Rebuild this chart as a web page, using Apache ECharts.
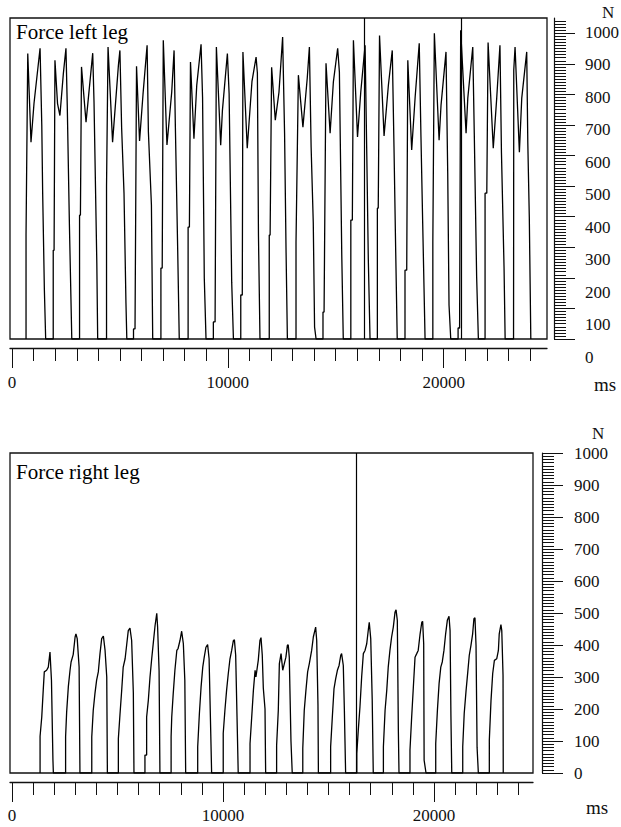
<!DOCTYPE html>
<html><head><meta charset="utf-8">
<script src="https://cdn.jsdelivr.net/npm/echarts@6/dist/echarts.min.js"></script>
<style>html,body{margin:0;padding:0;background:#fff}#c{width:621px;height:827px}</style>
</head><body><div id="c"></div>
<script>
// ---- data: left leg force (ms, N), one sub-array per step ----
const leftLegCycles = [
 [[650,0],[650,340],[680,340],[730,934],[880,644],[1020,771],[1300,951],[1380,699],[1420,480],[1500,160],[1560,0]],
 [[1910,0],[1910,290],[1950,290],[1990,912],[2110,770],[2220,731],[2380,869],[2500,951],[2560,765],[2660,373],[2770,0]],
 [[3130,0],[3130,405],[3170,405],[3220,890],[3430,709],[3520,775],[3740,935],[3800,775],[3930,248],[3970,0]],
 [[4380,0],[4380,500],[4400,500],[4450,955],[4660,644],[4930,895],[5000,944],[5080,690],[5190,477],[5280,118],[5320,0]],
 [[5630,0],[5630,33],[5700,33],[5770,892],[5910,648],[6070,800],[6260,961],[6320,677],[6460,438],[6520,0]],
 [[6900,0],[6900,232],[6960,232],[7010,977],[7180,635],[7400,807],[7510,944],[7570,693],[7680,281],[7750,0]],
 [[8160,0],[8160,366],[8220,366],[8270,906],[8430,655],[8560,830],[8760,964],[8830,790],[8910,199],[8990,0]],
 [[9330,0],[9330,56],[9410,56],[9470,955],[9670,634],[9750,748],[9980,934],[10060,803],[10180,186],[10260,0]],
 [[10600,0],[10600,144],[10670,144],[10700,939],[10900,624],[11120,843],[11310,922],[11370,870],[11420,340],[11490,0]],
 [[11920,0],[11920,340],[11960,340],[12030,889],[12200,716],[12370,807],[12540,988],[12630,673],[12700,281],[12760,0]],
 [[13160,0],[13160,317],[13190,317],[13270,863],[13480,693],[13680,853],[13780,955],[13860,628],[13960,379],[14020,39],[14090,0]],
 [[14410,0],[14410,88],[14460,88],[14550,902],[14740,673],[14890,840],[15090,951],[15170,873],[15280,275],[15350,0]],
 [[15700,0],[15700,389],[15770,389],[15820,977],[16010,661],[16160,807],[16360,961],[16440,601],[16510,261],[16590,0]],
 [[16930,0],[16930,428],[16970,428],[17030,993],[17240,664],[17440,830],[17620,944],[17700,628],[17780,284],[17850,0]],
 [[18210,0],[18210,225],[18290,225],[18340,912],[18520,618],[18680,791],[18870,967],[18950,661],[19030,379],[19140,0]],
 [[19500,0],[19500,317],[19520,317],[19570,1000],[19790,650],[19880,765],[20110,939],[20190,542],[20250,111],[20330,0]],
 [[20670,0],[20670,36],[20740,36],[20790,1010],[21040,673],[21120,788],[21350,955],[21420,673],[21530,203],[21610,0]],
 [[21920,0],[21920,477],[22000,477],[22060,970],[22300,624],[22460,788],[22610,961],[22680,608],[22800,232],[22850,0]],
 [[23240,0],[23250,880],[23310,955],[23510,611],[23620,788],[23850,939],[23900,644],[23970,399],[24040,0]]
];
// ---- data: right leg force (ms, N) ----
const rightLegCycles = [
 [[1330,0],[1330,115],[1410,175],[1480,259],[1530,316],[1640,321],[1720,331],[1800,378],[1870,290],[1940,40],[1960,0]],
 [[2540,0],[2540,113],[2590,191],[2670,270],[2750,321],[2800,347],[2900,370],[2990,425],[3030,435],[3090,420],[3180,331],[3220,0]],
 [[3780,0],[3780,113],[3850,196],[3930,248],[4010,290],[4090,316],[4170,373],[4250,420],[4330,428],[4410,383],[4490,300],[4520,0]],
 [[5040,0],[5040,108],[5120,186],[5200,260],[5270,331],[5360,357],[5440,404],[5510,445],[5590,453],[5670,414],[5750,250],[5780,0]],
 [[6300,0],[6300,56],[6380,56],[6380,175],[6460,227],[6540,300],[6620,357],[6700,409],[6780,461],[6860,499],[6900,456],[6970,320],[7010,0]],
 [[7540,0],[7540,113],[7570,175],[7640,248],[7720,321],[7810,383],[7870,389],[7960,414],[8040,443],[8120,404],[8190,290],[8230,0]],
 [[8800,0],[8800,82],[8880,186],[8960,269],[9040,331],[9110,362],[9190,393],[9270,401],[9340,357],[9420,120],[9460,0]],
 [[10010,0],[10010,124],[10090,196],[10170,259],[10250,311],[10330,357],[10410,383],[10490,414],[10540,416],[10600,368],[10680,125],[10720,0]],
 [[11280,0],[11280,92],[11360,175],[11440,259],[11520,321],[11560,300],[11670,352],[11750,414],[11800,423],[11860,368],[11910,265],[11990,200],[12020,0]],
 [[12540,0],[12540,87],[12620,196],[12670,342],[12750,373],[12830,321],[12900,340],[12980,362],[13050,399],[13090,401],[13140,362],[13220,100],[13280,0]],
 [[13780,0],[13780,77],[13850,196],[13930,259],[14010,316],[14090,342],[14200,383],[14280,425],[14390,456],[14440,414],[14500,212],[14520,0]],
 [[15100,0],[15100,82],[15180,175],[15260,264],[15340,295],[15420,321],[15500,336],[15580,368],[15620,373],[15700,336],[15750,200],[15810,0]],
 [[16340,0],[16340,61],[16410,134],[16490,207],[16570,300],[16650,373],[16730,383],[16810,404],[16890,450],[16930,471],[17000,420],[17070,230],[17120,0]],
 [[17600,0],[17600,82],[17680,196],[17760,259],[17830,331],[17910,383],[17990,425],[18070,456],[18150,502],[18200,510],[18260,477],[18310,129],[18340,0]],
 [[18860,0],[18860,72],[18940,175],[19020,269],[19100,362],[19180,373],[19250,383],[19340,435],[19420,471],[19460,474],[19510,404],[19530,40],[19620,0]],
 [[20080,0],[20080,92],[20160,196],[20240,280],[20320,331],[20390,347],[20470,383],[20550,435],[20630,477],[20710,490],[20760,445],[20800,181],[20840,0]],
 [[21360,0],[21360,82],[21430,186],[21520,259],[21600,316],[21670,368],[21750,399],[21830,435],[21890,482],[21940,485],[21990,399],[22040,80],[22100,0]],
 [[22620,0],[22620,103],[22700,227],[22780,311],[22860,352],[22970,357],[23050,383],[23090,435],[23170,464],[23210,445],[23270,305],[23280,0]]
];
const leftMarkers = [16300, 20800];
const rightMarkers = [16300];
const xMinorTicks = [0,1000,2000,3000,4000,5000,6000,7000,8000,9000,10000,11000,12000,13000,14000,15000,16000,17000,18000,19000,20000,21000,22000,23000,24000];
const xMajorTicks = [0, 10000, 20000];
const yLabelValues = [0,100,200,300,400,500,600,700,800,900,1000];
const titles = ['Force left leg', 'Force right leg'];
const yUnit = 'N', xUnit = 'ms';

const leftLeg = [].concat(...leftLegCycles);
const rightLeg = [].concat(...rightLegCycles);
function range(a, b, s){ const r=[]; for(let v=a; v<=b; v+=s) r.push(v); return r; }
const yMinorTop = range(0, 1040, 10);
const yMinorBottom = range(0, 1000, 10);

const FONT = 'Liberation Serif';
const INK = '#111';
const tickStyle = {color: INK, width: 1};
const plain = v => String(Math.round(v));
const lbl = {fontFamily: FONT, fontSize: 17, color: INK, formatter: plain};

function xPair(grid, min, max) {
  return [
    {gridIndex: grid, type: 'value', min: min, max: max, position: 'bottom', offset: 9,
     axisLine: {show: true, onZero: false, lineStyle: {color: INK, width: 1.3}},
     axisTick: {show: true, customValues: xMinorTicks, length: 13, lineStyle: tickStyle},
     axisLabel: {show: false}, splitLine: {show: false}},
    {gridIndex: grid, type: 'value', min: min, max: max, position: 'bottom', offset: 9,
     axisLine: {show: false, onZero: false},
     axisTick: {show: true, customValues: xMajorTicks, length: 20, lineStyle: tickStyle},
     axisLabel: Object.assign({show: true, customValues: xMajorTicks, margin: grid === 0 ? 26 : 25}, lbl),
     splitLine: {show: false}}
  ];
}
function yPair(grid, max, minor, offset, withLabels) {
  return [
    {gridIndex: grid, type: 'value', min: 0, max: max, position: 'right', offset: offset,
     axisLine: {show: true, onZero: false, lineStyle: {color: INK, width: 1.2}},
     axisTick: {show: true, customValues: minor, length: 12, lineStyle: tickStyle},
     axisLabel: {show: false}, splitLine: {show: false}},
    {gridIndex: grid, type: 'value', min: 0, max: max, position: 'right', offset: offset,
     axisLine: {show: false, onZero: false},
     axisTick: {show: true, customValues: yLabelValues, length: 21, lineStyle: tickStyle},
     axisLabel: withLabels ? Object.assign({show: true, customValues: yLabelValues, margin: 32, align: 'left'}, lbl) : {show: false},
     splitLine: {show: false}}
  ];
}
function marks(list) {
  return {silent: true, symbol: ['none','none'], label: {show: false},
    lineStyle: {color: '#000', type: 'solid', width: 1.2},
    emphasis: {disabled: true},
    data: list.map(v => ({xAxis: v}))};
}
const lineStyle = {color: '#000', width: 1.3};

const chart = echarts.init(document.getElementById('c'), null, {renderer: 'svg', width: 621, height: 827});
chart.setOption({
  animation: false,
  backgroundColor: '#fff',
  grid: [
    {left: 10, top: 18, width: 537, height: 321, show: true, borderColor: INK, borderWidth: 1.3, containLabel: false, outerBoundsMode: 'none'},
    {left: 10, top: 453, width: 523, height: 320, show: true, borderColor: INK, borderWidth: 1.3, containLabel: false, outerBoundsMode: 'none'},
    {left: 554, top: 32, width: 1, height: 325, show: false, containLabel: false, outerBoundsMode: 'none'}
  ],
  xAxis: [].concat(
    xPair(0, -93, 24790),
    xPair(1, -95, 24690),
    [{gridIndex: 2, type: 'value', min: 0, max: 1, show: false}]
  ),
  yAxis: [].concat(
    yPair(0, 1050, yMinorTop, 7, false),
    yPair(1, 1000, yMinorBottom, 9, true),
    [{gridIndex: 2, type: 'value', min: 0, max: 1000, interval: 100, position: 'right',
      axisLine: {show: false, onZero: false}, axisTick: {show: false}, splitLine: {show: false},
      axisLabel: Object.assign({show: true, margin: 30, align: 'left'}, lbl)}]
  ),
  series: [
    {type: 'line', xAxisIndex: 0, yAxisIndex: 0, data: leftLeg, symbol: 'none', showSymbol: false,
     lineStyle: lineStyle, silent: true, markLine: marks(leftMarkers)},
    {type: 'line', xAxisIndex: 2, yAxisIndex: 2, data: rightLeg, symbol: 'none', showSymbol: false,
     lineStyle: lineStyle, silent: true, markLine: marks(rightMarkers)}
  ],
  graphic: [
    {type: 'text', left: 16, top: 21, style: {text: titles[0], font: '21px "Liberation Serif"', fill: '#000'}},
    {type: 'text', left: 16, top: 461, style: {text: titles[1], font: '21px "Liberation Serif"', fill: '#000'}},
    {type: 'text', left: 602, top: 4, style: {text: yUnit, font: '17px "Liberation Serif"', fill: INK}},
    {type: 'text', left: 592, top: 425, style: {text: yUnit, font: '17px "Liberation Serif"', fill: INK}},
    {type: 'text', left: 594, top: 375, style: {text: xUnit, font: '19px "Liberation Serif"', fill: INK}},
    {type: 'text', left: 586, top: 798, style: {text: xUnit, font: '19px "Liberation Serif"', fill: INK}}
  ]
});
</script>
</body></html>
